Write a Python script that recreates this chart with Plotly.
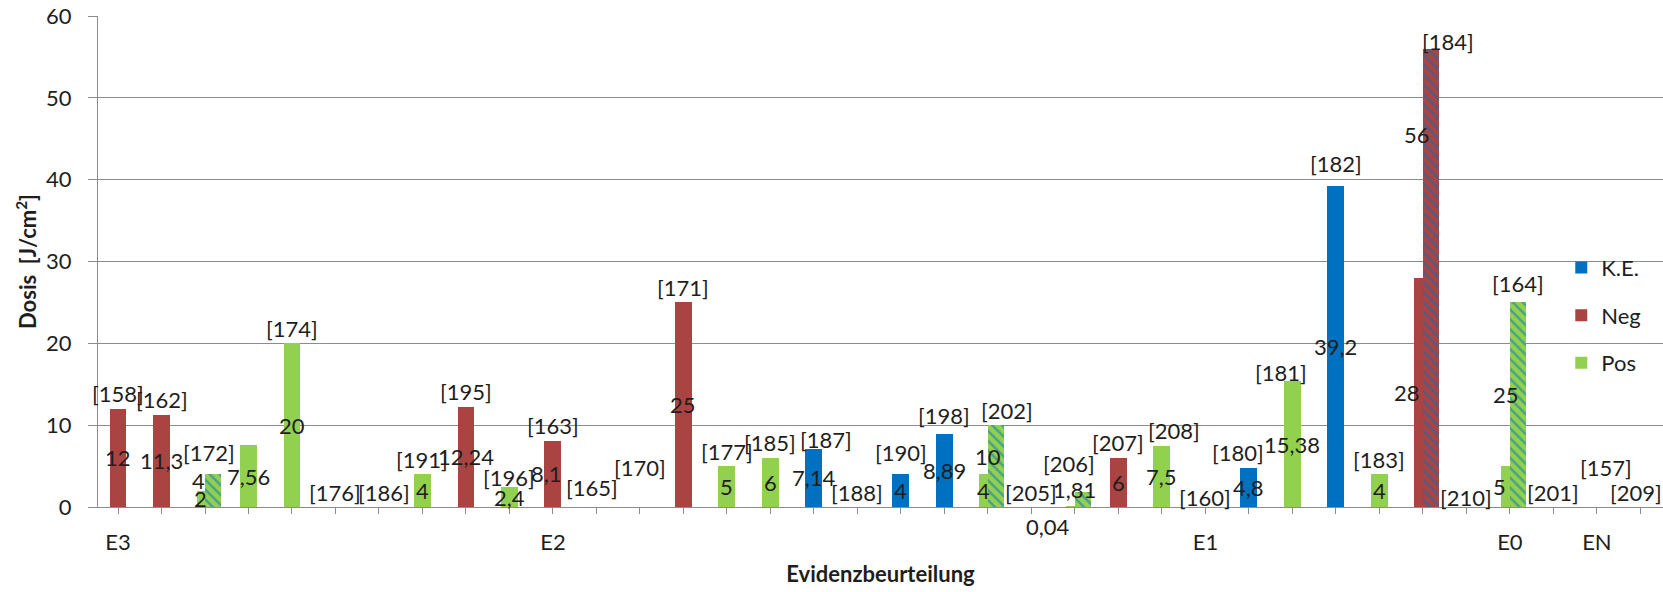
import plotly.graph_objects as go

# --- data -------------------------------------------------------------------
sample_ids = ["158", "162", "172", "", "174", "176", "186", "191", "195", "196",
              "163", "165", "170", "171", "177", "185", "187", "188", "190", "198",
              "202", "205", "206", "207", "208", "160", "180", "181", "182", "183",
              "184", "210", "164", "201", "157", "209"]
N = len(sample_ids)

ke_dose = [None] * N
for i, v in [(16, 7.14), (18, 4), (19, 8.89), (26, 4.8), (28, 39.2)]:
    ke_dose[i] = v

neg_dose = [None] * N
for i, v in [(0, 12), (1, 11.3), (8, 12.24), (10, 8.1), (13, 25), (23, 6), (30, 28)]:
    neg_dose[i] = v

pos_dose = [None] * N
for i, v in [(2, 2), (3, 7.56), (4, 20), (7, 4), (9, 2.4), (14, 5), (15, 6), (20, 4),
             (22, 0.04), (24, 7.5), (27, 15.38), (29, 4), (32, 5)]:
    pos_dose[i] = v

# upper dose of a reported range (hatched bars)
pos_range_dose = [None] * N
for i, v in [(2, 4), (20, 10), (22, 1.81), (32, 25)]:
    pos_range_dose[i] = v

neg_range_dose = [None] * N
neg_range_dose[30] = 56

group_pos = [0, 10, 25, 32, 34]
group_text = ["E3", "E2", "E1", "E0", "EN"]

# --- style ------------------------------------------------------------------
FONT = "Lato, 'DejaVu Sans', sans-serif"
FS = 22
TXT = "#1e1e1e"
C_KE, C_NEG, C_POS = "#0070C0", "#AA4442", "#92D050"
GRID = "#8c8c8c"
BAR_W = 0.39
RANGE_W = 0.36

# pixel nudges for hand-placed labels (dx right, dy up)
id_nudge = {"172": (-4, 7), "186": (5, 0), "196": (0, -5), "165": (-4, 5), "170": (0, 25),
            "187": (12, -6), "190": (0, 7), "198": (0, 4), "202": (11, 0), "206": (-14, 14),
            "208": (12, 0), "160": (0, -5), "180": (-11, 0), "181": (-11, -6), "182": (0, 8),
            "184": (17, -8), "210": (0, -5), "164": (0, 4), "157": (9, 25), "209": (-4, 0)}
val_nudge = {(10, "n"): (-6, 0), (30, "n"): (-12, 0), (32, "n"): (-6, 0), (22, "n"): (-23, -20),
             (2, "r"): (-7, 0), (30, "r"): (-6, 133), (32, "r"): (-4, 0)}


def fmt(v):
    return f"{v:g}".replace(".", ",")


x = list(range(N))
fig = go.Figure()

for name, vals, col in [("K.E.", ke_dose, C_KE), ("Neg", neg_dose, C_NEG), ("Pos", pos_dose, C_POS)]:
    fig.add_trace(go.Bar(x=x, y=vals, name=name, width=BAR_W, marker=dict(color=col, line_width=0),
                         legendgroup=name, hoverinfo="skip"))

for vals, col in [(pos_range_dose, C_POS), (neg_range_dose, C_NEG)]:
    fig.add_trace(go.Bar(x=x, y=vals, width=RANGE_W, offset=0, showlegend=False, hoverinfo="skip",
                         marker=dict(color=col, line_width=0,
                                     pattern=dict(shape="\\", fgcolor=C_KE, bgcolor=col,
                                                  size=7, solidity=0.35))))

ann = []
font = dict(family=FONT, size=FS, color=TXT)
for i in range(N):
    base_vals = [v for v in (ke_dose[i], neg_dose[i], pos_dose[i]) if v is not None]
    base = base_vals[0] if base_vals else None
    rng = pos_range_dose[i] if pos_range_dose[i] is not None else neg_range_dose[i]
    paired = rng is not None
    # sample id above the tallest bar of the category
    if sample_ids[i]:
        top = rng if paired else (base if base is not None else 0)
        xc = i + RANGE_W / 2 if paired else i
        dx, dy = id_nudge.get(sample_ids[i], (0, 0))
        ann.append(dict(x=xc, y=top, text=f"[{sample_ids[i]}]", showarrow=False,
                        xshift=dx, yshift=15 + dy, font=font))
    # dose value in the middle of each bar
    if base is not None:
        dx, dy = val_nudge.get((i, "n"), (0, 0))
        ann.append(dict(x=i - 0.1 if paired else i, y=base / 2, text=fmt(base), showarrow=False,
                        xshift=dx, yshift=dy, font=font))
    if paired:
        dx, dy = val_nudge.get((i, "r"), (0, 0))
        ann.append(dict(x=i, y=rng / 2, text=fmt(rng), showarrow=False,
                        xshift=dx, yshift=10 + dy, font=font))

ticktext = [""] * N
for p, t in zip(group_pos, group_text):
    ticktext[p] = t

fig.update_layout(
    width=1663, height=592,
    margin=dict(l=98, r=0, t=16, b=85),
    paper_bgcolor="white", plot_bgcolor="white",
    barmode="overlay", bargap=0,
    font=dict(family=FONT, size=FS, color=TXT),
    annotations=ann,
    legend=dict(x=0.935, xanchor="left", y=0.53, yanchor="top", bgcolor="rgba(0,0,0,0)",
                font=dict(family=FONT, size=FS, color=TXT), tracegroupgap=16,
                itemwidth=30),
    xaxis=dict(range=[-0.46, 35.52], tickmode="array", tickvals=x, ticktext=ticktext,
               ticks="outside", ticklen=6, tickcolor=GRID, showline=True, linecolor=GRID,
               showgrid=False, zeroline=False, ticklabelstandoff=10,
               title=dict(text="<b>Evidenzbeurteilung</b>", standoff=12,
                          font=dict(family=FONT, size=FS, color=TXT))),
    yaxis=dict(range=[0, 60], dtick=10, ticks="outside", ticklen=9, tickcolor=GRID,
               showline=True, linecolor=GRID, showgrid=True, gridcolor=GRID, gridwidth=1,
               zeroline=False, ticklabelstandoff=12,
               title=dict(text="<b>Dosis  [J/cm<sup>2</sup>]</b>", standoff=3,
                          font=dict(family=FONT, size=FS, color=TXT))),
)

fig.write_html("out.html")
